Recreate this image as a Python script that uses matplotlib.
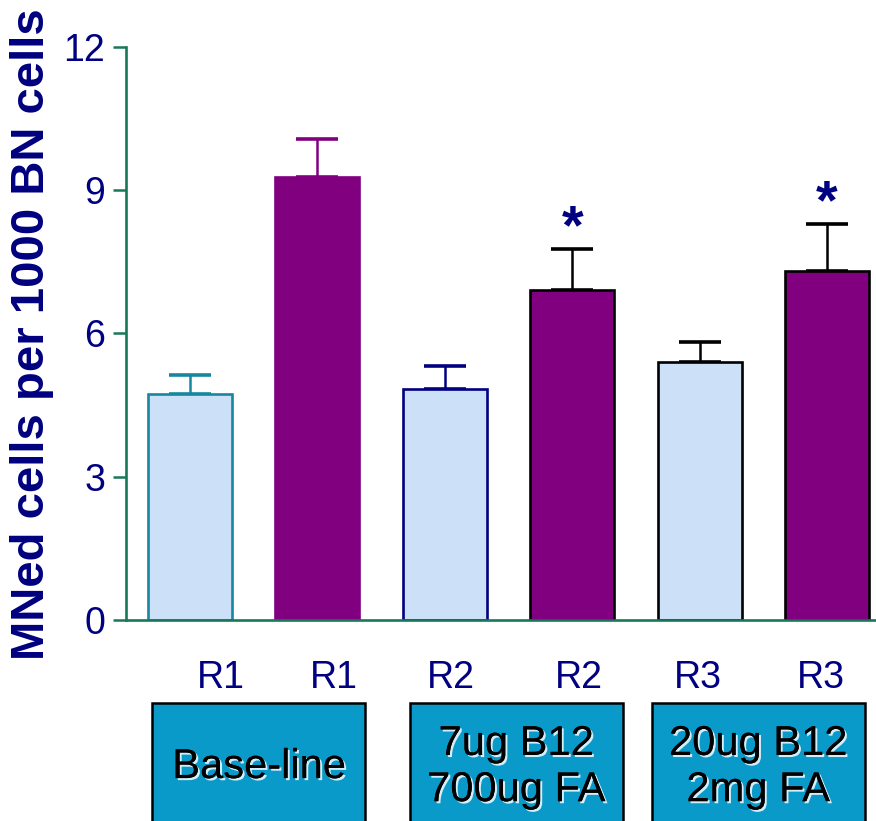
import matplotlib.pyplot as plt
import matplotlib.patheffects as pe
from matplotlib.patches import Rectangle
from matplotlib.transforms import blended_transform_factory

plt.rcParams['font.family'] = ['Liberation Sans', 'DejaVu Sans']

# values
run_labels = ['R1', 'R1', 'R2', 'R2', 'R3', 'R3']
means = [4.73, 9.27, 4.84, 6.91, 5.40, 7.31]
err_up = [0.40, 0.80, 0.47, 0.86, 0.43, 0.98]
significant = [False, False, False, True, False, True]
group_labels = ['Base-line', '7ug B12\n700ug FA', '20ug B12\n2mg FA']

# styling
NAVY = '#000080'
GREEN = '#17785a'
fills = ['#cce0f7', '#800080', '#cce0f7', '#800080', '#cce0f7', '#800080']
edges = ['#17879f', '#800080', NAVY, 'black', 'black', 'black']
label_shift = [0.24, 0.13, 0.05, 0.05, -0.01, -0.05]
group_shift = [0.04, 0.06, -0.04]

fig = plt.figure(figsize=(8.76, 8.21), dpi=100)
ax = fig.add_axes([0.1438, 0.2448, 0.8562, 0.6980])

x = list(range(len(means)))
ax.bar(x, means, width=0.66, color=fills, edgecolor=edges, linewidth=1.9, zorder=2)

for xi, m, e, c in zip(x, means, err_up, edges):
    ax.errorbar(xi, m, yerr=[[0], [e]], fmt='none', ecolor=c, elinewidth=1.8,
                capsize=15, capthick=2.6, zorder=1)

for xi, m, e, s in zip(x, means, err_up, significant):
    if s:
        ax.text(xi, m + e + 0.42, '*', ha='center', va='center', fontsize=40,
                fontweight='bold', color=NAVY)

ax.set_xlim(-0.503, 5.385)
ax.set_ylim(0, 12)
ax.set_yticks([0, 3, 6, 9, 12])
ax.set_xticks([])
ax.tick_params(axis='y', colors=GREEN, labelcolor=NAVY, labelsize=27,
               length=9.5, width=1.8, pad=5.5)
for side in ['top', 'right']:
    ax.spines[side].set_visible(False)
for side in ['left', 'bottom']:
    ax.spines[side].set_color(GREEN)
    ax.spines[side].set_linewidth(1.9)

fig.text(0.037, 0.593, 'MNed cells per 1000 BN cells', rotation=90,
         ha='center', va='center', fontsize=34, fontweight='bold', color=NAVY)

# run labels and treatment boxes below the axis
trans = blended_transform_factory(ax.transData, fig.transFigure)
for xi, lab, sh in zip(x, run_labels, label_shift):
    ax.text(xi + sh, 0.1745, lab, transform=trans, ha='center', va='center',
            fontsize=27, color=NAVY, clip_on=False)

glow = [pe.withSimplePatchShadow(offset=(1.5, -1.5), shadow_rgbFace='#e8f8ff', alpha=0.9),
        pe.Normal()]
for i, (lab, sh) in enumerate(zip(group_labels, group_shift)):
    cx = 2 * i + 0.5 + sh
    ax.add_patch(Rectangle((cx - 0.835, -0.05), 1.67, 0.1937, transform=trans,
                           facecolor='#0a9ac9', edgecolor='black', linewidth=1.8,
                           clip_on=False))
    ax.text(cx, 0.0657, lab, transform=trans, ha='center', va='center',
            fontsize=30, color='black', linespacing=1.2, path_effects=glow,
            clip_on=False)

fig.savefig('out.png', dpi=100)
